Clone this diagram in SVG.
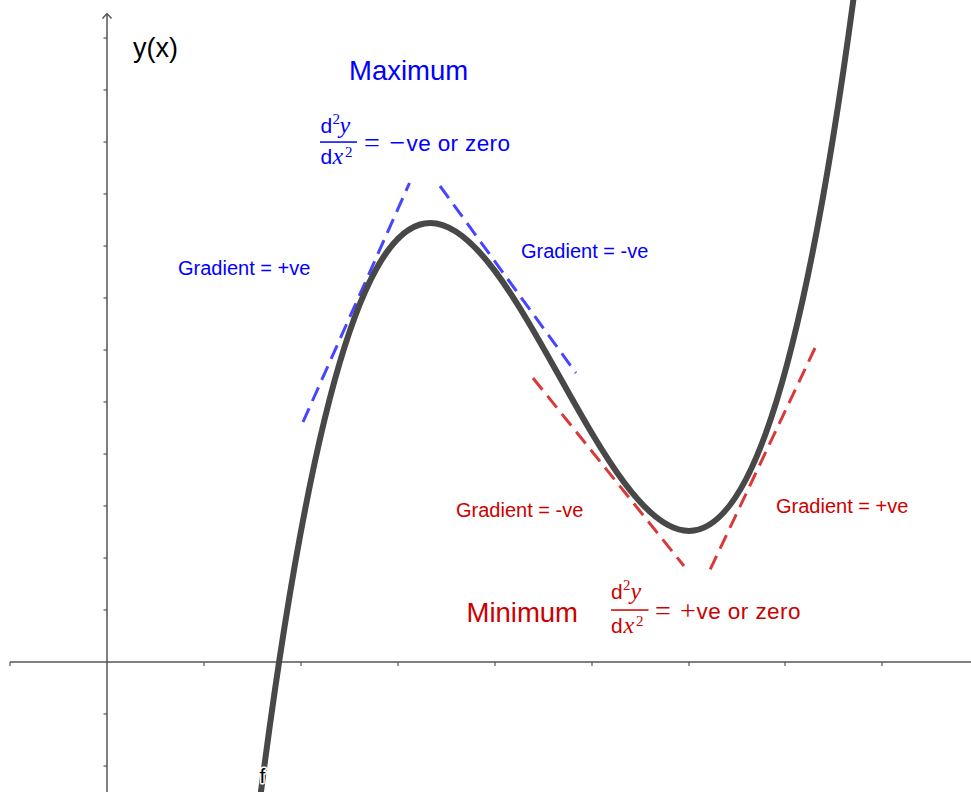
<svg xmlns="http://www.w3.org/2000/svg" width="971" height="792" viewBox="0 0 971 792">
<style>
.axis{stroke:#555;stroke-width:1.5;fill:none}
.tick{stroke:#555;stroke-width:1.2}
.curve{stroke:#484848;stroke-width:6;fill:none;stroke-linecap:round}
.tb{stroke:#4646ff;stroke-width:3;stroke-dasharray:15 8;fill:none}
.tr{stroke:#d83a3a;stroke-width:3;stroke-dasharray:15 8;fill:none}
.sans{font-family:"Liberation Sans",Arial,sans-serif}
.ser{font-family:"Liberation Serif","Times New Roman",serif}
.blue{fill:#0000ff}
.red{fill:#cc0000}
.lbl{font-size:20px}
.big{font-size:27.5px}
.fd{font-size:21px}
.fv{font-size:24px;font-style:italic}
.fs{font-size:15px}
.fe{font-size:28px}
.ft{font-size:22.5px}
</style>
<rect width="971" height="792" fill="#ffffff"/>
<g id="axes">
<line class="axis" x1="10" y1="662" x2="971" y2="662"/>
<line class="axis" x1="107" y1="14" x2="107" y2="792"/>
<polyline class="axis" points="102.5,18.5 107,13.5 111.5,18.5"/>
<g class="tick">
<line x1="10" y1="662" x2="10" y2="666"/>
<line x1="204" y1="662" x2="204" y2="666"/>
<line x1="301" y1="662" x2="301" y2="666"/>
<line x1="398" y1="662" x2="398" y2="666"/>
<line x1="495" y1="662" x2="495" y2="666"/>
<line x1="592" y1="662" x2="592" y2="666"/>
<line x1="689" y1="662" x2="689" y2="666"/>
<line x1="785" y1="662" x2="785" y2="666"/>
<line x1="882" y1="662" x2="882" y2="666"/>
<line x1="103.5" y1="38" x2="107" y2="38"/>
<line x1="103.5" y1="90" x2="107" y2="90"/>
<line x1="103.5" y1="142" x2="107" y2="142"/>
<line x1="103.5" y1="194" x2="107" y2="194"/>
<line x1="103.5" y1="246" x2="107" y2="246"/>
<line x1="103.5" y1="298" x2="107" y2="298"/>
<line x1="103.5" y1="350" x2="107" y2="350"/>
<line x1="103.5" y1="402" x2="107" y2="402"/>
<line x1="103.5" y1="454" x2="107" y2="454"/>
<line x1="103.5" y1="506" x2="107" y2="506"/>
<line x1="103.5" y1="558" x2="107" y2="558"/>
<line x1="103.5" y1="610" x2="107" y2="610"/>
<line x1="103.5" y1="714" x2="107" y2="714"/>
<line x1="103.5" y1="766" x2="107" y2="766"/>
</g>
<text class="sans" x="133" y="57" font-size="27" fill="#000">y(x)</text>
</g>
<g id="connectors">
<line class="tb" x1="303" y1="422" x2="409.5" y2="183"/>
<line class="tb" x1="440" y1="186" x2="576" y2="373"/>
<line class="tr" x1="533" y1="378" x2="684" y2="566"/>
<line class="tr" x1="815" y1="348" x2="709" y2="572"/>
</g>
<g id="curve-f">
<path class="curve" d="M259.3,804.8 C316.3,357.6 373.3,223 430.3,223 C516.6,223 602.8,530.9 689,530.9 C744,530.9 798.9,405.5 853.9,-4.1"/>
<text class="sans" x="259.5" y="783" font-size="21" fill="#000" stroke="#fff" stroke-width="3" paint-order="stroke" stroke-linejoin="round">f</text>
</g>
<g id="maximum">
<text class="sans big blue" x="349" y="79.5">Maximum</text>
<g class="blue">
<text class="sans fd" x="320.5" y="133">d</text>
<text class="ser fs" x="332.5" y="124">2</text>
<text class="ser fv" x="339.5" y="133">y</text>
<rect x="320" y="141.3" width="37" height="1.5"/>
<text class="sans fd" x="320.5" y="164">d</text>
<text class="ser fv" x="332.5" y="164">x</text>
<text class="ser fs" x="345" y="157">2</text>
<text class="ser fe" x="364" y="151.5">=</text>
<text class="ser fe" x="389.5" y="151.5">−</text>
<text class="sans ft" x="406.5" y="151" textLength="103.5" lengthAdjust="spacing">ve or zero</text>
</g>
</g>
<g id="minimum">
<text class="sans big red" x="466.5" y="622.3">Minimum</text>
<g class="red">
<text class="sans fd" x="611" y="599">d</text>
<text class="ser fs" x="623" y="590">2</text>
<text class="ser fv" x="630.5" y="599">y</text>
<rect x="611" y="609.3" width="37.5" height="1.5"/>
<text class="sans fd" x="611" y="633">d</text>
<text class="ser fv" x="623.5" y="633">x</text>
<text class="ser fs" x="636" y="626">2</text>
<text class="ser fe" x="655" y="620">=</text>
<text class="ser fe" x="680" y="620">+</text>
<text class="sans ft" x="696.5" y="619" textLength="104" lengthAdjust="spacing">ve or zero</text>
</g>
</g>
<g id="gradient-labels">
<text class="sans lbl blue" x="178" y="275">Gradient = +ve</text>
<text class="sans lbl blue" x="521" y="258">Gradient = -ve</text>
<text class="sans lbl red" x="456" y="517">Gradient = -ve</text>
<text class="sans lbl red" x="776" y="512.7">Gradient = +ve</text>
</g>
</svg>
